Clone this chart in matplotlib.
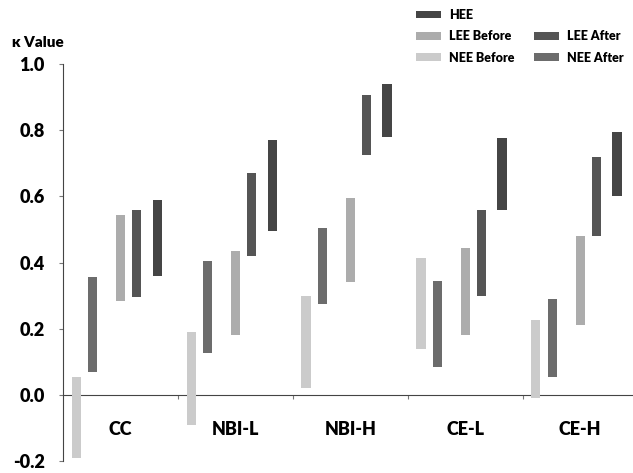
import numpy as np
import matplotlib.pyplot as plt
from matplotlib.patches import Patch

plt.rcParams['font.family'] = ['Lato', 'DejaVu Sans']
plt.rcParams['font.weight'] = 'bold'

categories = ['CC', 'NBI-L', 'NBI-H', 'CE-L', 'CE-H']
series = ['NEE Before', 'NEE After', 'LEE Before', 'LEE After', 'HEE']

# kappa ranges (low, high) per series, one value per category
nee_before_lo = [-0.19, -0.09, 0.02, 0.14, -0.01]
nee_before_hi = [0.055, 0.19, 0.30, 0.415, 0.225]
nee_after_lo = [0.07, 0.125, 0.275, 0.085, 0.055]
nee_after_hi = [0.355, 0.405, 0.505, 0.345, 0.29]
lee_before_lo = [0.285, 0.18, 0.34, 0.18, 0.21]
lee_before_hi = [0.545, 0.435, 0.595, 0.445, 0.48]
lee_after_lo = [0.295, 0.42, 0.725, 0.30, 0.48]
lee_after_hi = [0.56, 0.67, 0.905, 0.56, 0.72]
hee_lo = [0.36, 0.495, 0.78, 0.56, 0.60]
hee_hi = [0.59, 0.77, 0.94, 0.775, 0.795]

lows = [nee_before_lo, nee_after_lo, lee_before_lo, lee_after_lo, hee_lo]
highs = [nee_before_hi, nee_after_hi, lee_before_hi, lee_after_hi, hee_hi]
colors = ['#cbcbcb', '#6c6c6c', '#acacac', '#555555', '#454545']
offsets = [-0.385, -0.24, 0.0, 0.14, 0.32]

fig = plt.figure(figsize=(6.33, 4.73), dpi=100)
ax = fig.add_axes([63/633, 12/473, 1 - 63/633, 397/473])

x = np.arange(len(categories))
handles = {}
for name, lo, hi, c, off in zip(series, lows, highs, colors, offsets):
    lo = np.array(lo)
    hi = np.array(hi)
    ax.bar(x + off, hi - lo, bottom=lo, width=0.08, color=c, zorder=3)
    handles[name] = Patch(facecolor=c)

ax.set_xlim(-0.5, 4.46)
ax.set_ylim(-0.2, 1.0)
ax.spines['top'].set_visible(False)
ax.spines['right'].set_visible(False)
ax.spines['bottom'].set_position(('data', 0))
ax.spines['left'].set_color('#444444')
ax.spines['bottom'].set_color('#444444')

ax.set_yticks(np.arange(-0.2, 1.01, 0.2))
ax.set_yticklabels(['%.1f' % v for v in np.arange(-0.2, 1.01, 0.2)], fontsize=13, fontweight='heavy')
ax.tick_params(axis='y', length=3, width=0.8, color='#777777', pad=10)

ax.set_xticks(x)
ax.set_xticklabels(categories, fontsize=13, fontweight='heavy')
ax.tick_params(axis='x', which='major', length=0, pad=19)
ax.set_xticks(np.arange(0.5, 4.5, 1), minor=True)
ax.tick_params(axis='x', which='minor', length=3, width=0.8, color='#777777')

fig.text(12/633, 1 - 47/473, 'κ Value', fontsize=11, fontweight='heavy')

blank = Patch(facecolor='none', edgecolor='none')
order = [handles['HEE'], handles['LEE Before'], handles['NEE Before'],
         blank, handles['LEE After'], handles['NEE After']]
labels = ['HEE', 'LEE Before', 'NEE Before', '', 'LEE After', 'NEE After']
fig.legend(order, labels, ncol=2, loc='upper left', bbox_to_anchor=(405/633, 1.005),
           frameon=False, handlelength=2.0, handleheight=0.6,
           labelspacing=0.75, columnspacing=1.6, handletextpad=0.6,
           prop={'weight': 'heavy', 'size': 9})

fig.savefig('out.png', dpi=100)
